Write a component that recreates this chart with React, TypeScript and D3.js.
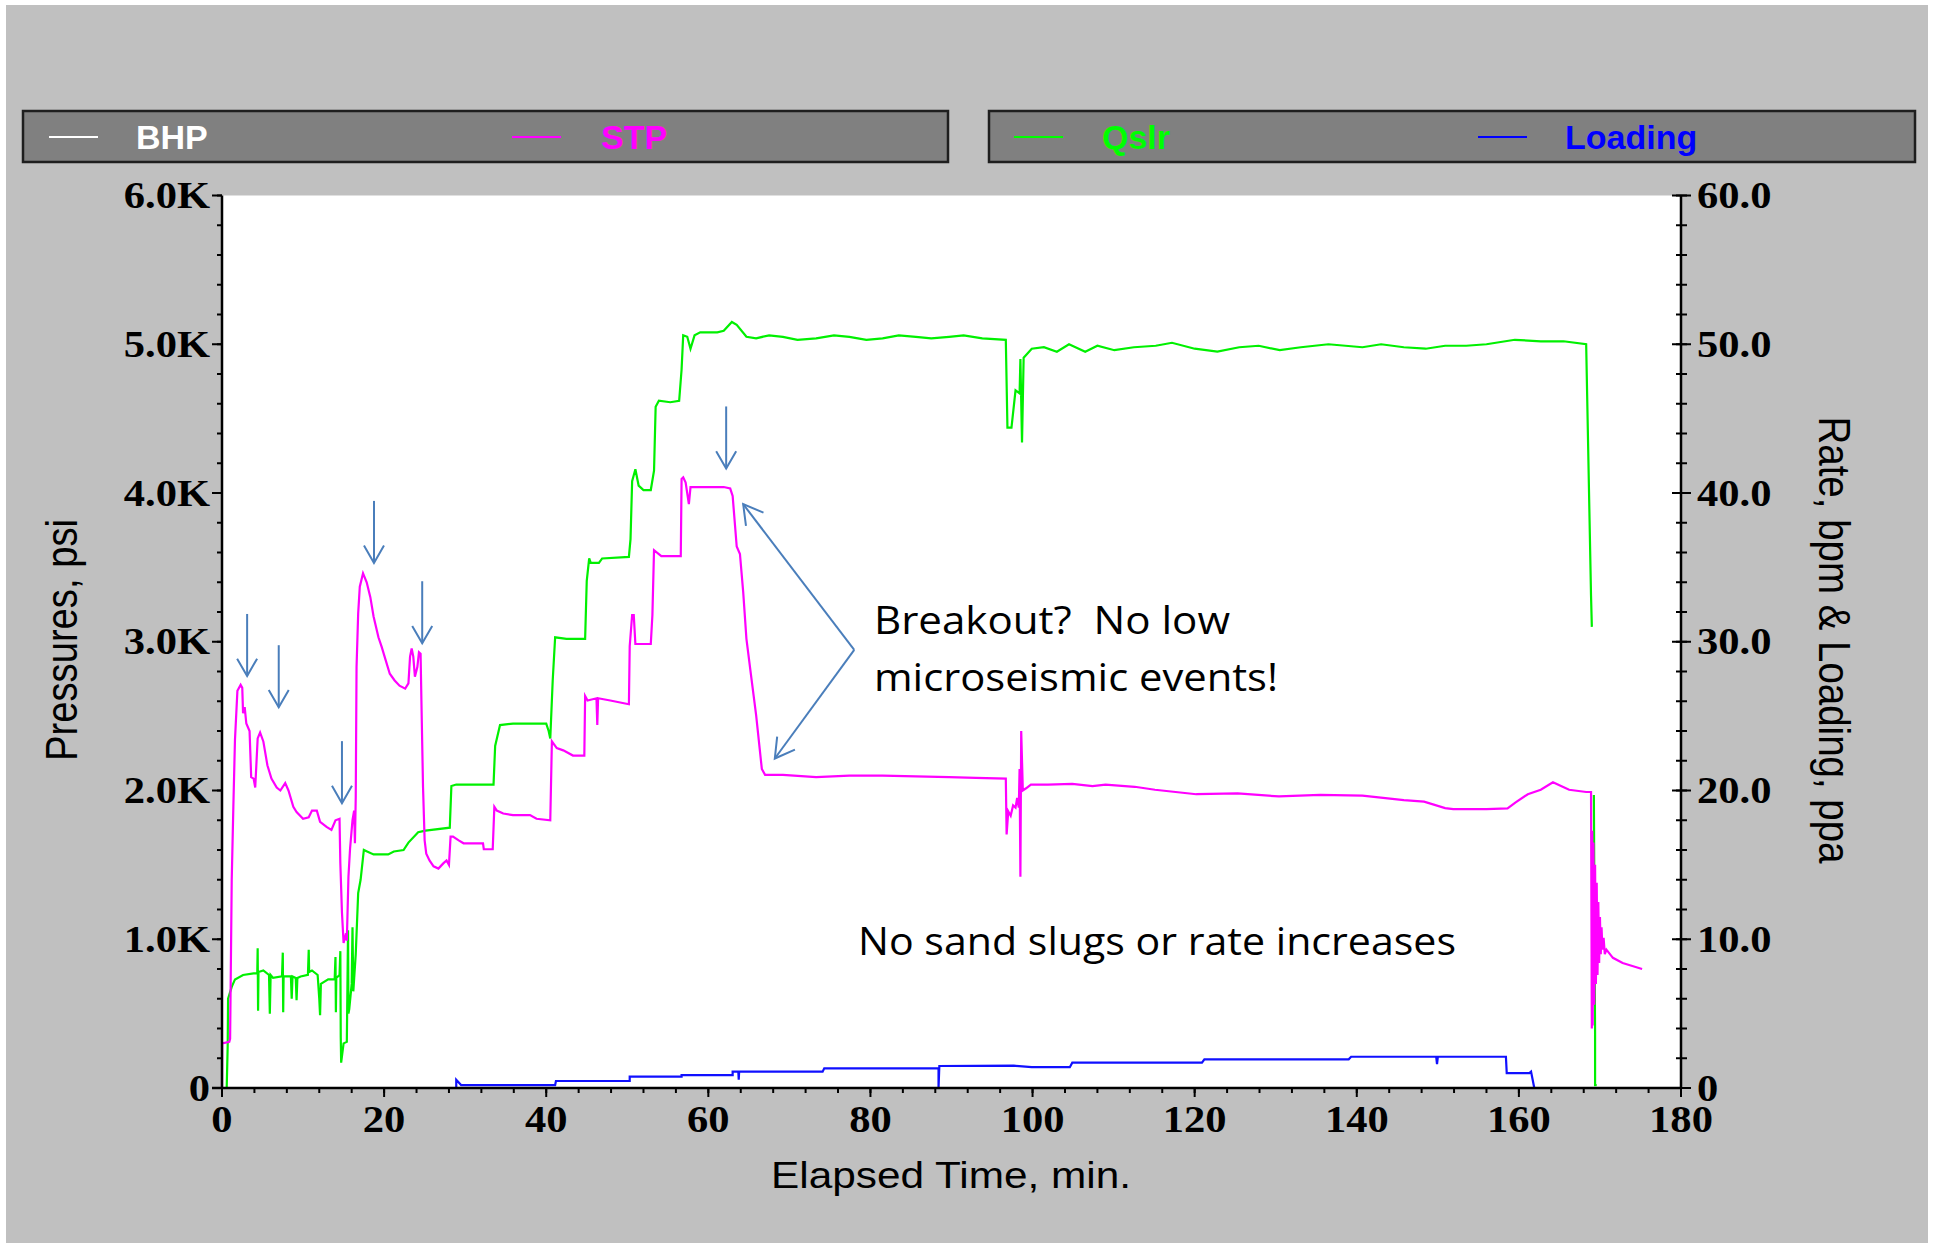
import React from 'react';
import * as d3 from 'd3';

// STP (surface treating pressure), psi
const stpTime = [0, 0.02, 0.9, 1.0, 1.2, 1.4, 1.6, 1.9, 2.3, 2.5, 2.6, 2.8, 3.0, 3.4, 3.6, 3.9, 4.1, 4.4, 4.7, 5.1, 5.6, 6.1, 6.75, 7.2, 7.8, 8.2, 8.8, 9.2, 10.0, 10.7, 11.1, 11.7, 12.1, 12.9, 13.5, 14.0, 14.5, 14.6, 14.8, 15.0, 15.3, 15.4, 15.6, 15.8, 16.1, 16.3, 16.4, 16.5, 16.6, 16.8, 17.0, 17.4, 17.85, 18.3, 18.7, 19.3, 19.7, 20.2, 20.7, 21.3, 21.9, 22.6, 23.0, 23.2, 23.4, 23.6, 23.8, 24.1, 24.3, 24.5, 24.6, 24.8, 25.0, 25.2, 25.6, 26.1, 26.7, 27.3, 27.7, 28.0, 28.2, 28.5, 29.2, 29.8, 32.2, 32.3, 33.4, 33.6, 33.9, 34.7, 35.9, 38.0, 38.8, 40.5, 40.7, 41.3, 42.1, 43.3, 44.7, 44.8, 45.1, 46.2, 46.3, 46.4, 47.9, 50.2, 50.3, 50.6, 50.8, 51.0, 52.9, 53.1, 53.3, 54.2, 56.6, 56.7, 56.9, 57.2, 57.6, 57.8, 59.0, 61.9, 62.7, 63.0, 63.5, 63.9, 64.3, 64.7, 65.3, 65.9, 66.6, 67.0, 69.2, 73.3, 77.4, 81.5, 85.6, 89.7, 93.0, 96.7, 96.8, 97.0, 97.3, 97.6, 97.9, 98.1, 98.3, 98.4, 98.5, 98.6, 98.8, 99.2, 99.8, 101.9, 104.9, 107.4, 109.0, 112.6, 115.1, 120.2, 125.3, 130.4, 135.5, 140.7, 145.8, 148.3, 150.9, 151.9, 156.0, 158.6, 159.6, 161.1, 162.7, 164.2, 165.2, 166.2, 168.3, 168.9, 169.0, 169.05, 169.1, 169.2, 169.3, 169.4, 169.5, 169.6, 169.7, 169.8, 169.9, 170.0, 170.1, 170.2, 170.3, 170.45, 170.6, 170.8, 171.6, 172.8, 174.0, 175.2];
const stpPsi = [0, 300, 310, 330, 1400, 1890, 2340, 2670, 2710, 2690, 2520, 2560, 2450, 2400, 2090, 2080, 2020, 2350, 2390, 2330, 2170, 2080, 2020, 2000, 2050, 2000, 1890, 1855, 1810, 1820, 1865, 1865, 1790, 1755, 1735, 1800, 1810, 1510, 1180, 975, 1040, 990, 1420, 1610, 1800, 1865, 1645, 1955, 2830, 3190, 3370, 3460, 3400, 3300, 3170, 3030, 2965, 2875, 2785, 2740, 2705, 2685, 2720, 2900, 2955, 2900, 2765, 2830, 2930, 2920, 2610, 2025, 1665, 1575, 1530, 1490, 1475, 1510, 1530, 1500, 1690, 1690, 1665, 1645, 1645, 1605, 1605, 1890, 1865, 1845, 1835, 1835, 1810, 1800, 2330, 2285, 2270, 2235, 2235, 2635, 2605, 2620, 2440, 2620, 2605, 2580, 2970, 3180, 3180, 2985, 2985, 3180, 3615, 3575, 3575, 4095, 4105, 4070, 3925, 4040, 4040, 4040, 4030, 3980, 3640, 3590, 3335, 3020, 2760, 2505, 2145, 2105, 2105, 2090, 2100, 2100, 2095, 2090, 2085, 2080, 1705, 1860, 1830, 1900, 1885, 1950, 1885, 2145, 1420, 2400, 2000, 2015, 2040, 2040, 2045, 2030, 2040, 2025, 2005, 1975, 1980, 1960, 1970, 1965, 1935, 1925, 1882, 1875, 1875, 1880, 1920, 1975, 2005, 2055, 2030, 2005, 1990, 1990, 400, 1730, 420, 1650, 560, 1500, 700, 1380, 760, 1250, 840, 1150, 900, 1080, 930, 1010, 900, 930, 875, 840, 820, 800];

// Qslr (slurry rate), bpm -- NaN marks a gap in the trace
const qslrTime = [0.58, 0.7, 0.75, 1.2, 1.6, 2.6, 3.9, 4.35, 4.4, 4.45, 4.5, 5.1, 5.8, 5.9, 6.0, 6.3, 7.4, 7.5, 7.55, 7.6, 8.5, 8.6, 8.7, 9.1, 9.2, 9.3, 9.7, 10.6, 10.7, 10.75, 11.1, 11.8, 12.0, 12.1, 12.2, 13.1, 13.9, 14.0, 14.05, 14.1, 14.5, 14.6, 14.65, 14.7, 15.0, 15.4, 15.55, 15.6, 15.7, 16.0, 16.1, 16.2, 16.5, 16.8, 17.1, 17.5, 17.9, 18.7, 20.5, 21.2, 22.4, 23.0, 24.2, 25.1, 28.1, 28.3, 28.9, 33.5, 33.7, 34.3, 35.9, 40.0, 40.3, 40.5, 40.8, 41.1, 42.5, 44.8, 45.0, 45.3, 45.5, 46.5, 46.9, 50.2, 50.4, 50.6, 51.0, 51.4, 52.0, 52.9, 53.3, 53.5, 53.9, 55.3, 56.4, 56.7, 56.9, 57.4, 57.8, 58.3, 59.0, 61.1, 61.9, 62.9, 63.5, 64.7, 65.9, 67.5, 69.2, 71.0, 73.3, 75.5, 77.4, 79.5, 81.5, 83.5, 85.6, 87.5, 89.7, 91.5, 93.8, 96.7, 96.9, 97.4, 97.9, 98.4, 98.5, 98.7, 98.9, 99.9, 101.4, 103.0, 104.5, 106.5, 108.0, 110.1, 112.5, 115.2, 117.2, 120.0, 122.8, 125.5, 127.9, 130.5, 133.1, 136.5, 140.7, 143.0, 145.8, 148.5, 150.9, 153.5, 156.0, 159.5, 162.7, 165.5, 168.3, 168.9, 169.0, 169.2, 169.25, 169.4, 169.4, 169.6, 175.0];
const qslrRate = [0, 2.8, 6.0, 6.8, 7.3, 7.6, 7.7, 7.7, 9.4, 5.2, 7.8, 7.9, 7.6, 5.0, 7.6, 7.4, 7.5, 9.1, 5.1, 7.5, 7.5, 6.0, 7.5, 7.4, 5.9, 7.4, 7.5, 7.6, 9.3, 7.8, 7.9, 7.6, 6.0, 4.9, 7.0, 7.3, 7.3, 8.8, 5.1, 7.4, 7.6, 9.2, 3.4, 1.7, 3.0, 3.1, 10.6, 5.0, 5.3, 7.0, 10.8, 6.5, 9.0, 13.1, 14.0, 16.0, 15.9, 15.7, 15.7, 15.9, 16.0, 16.5, 17.2, 17.3, 17.5, 20.3, 20.4, 20.4, 23.0, 24.4, 24.5, 24.5, 24.0, 23.5, 27.4, 30.3, 30.2, 30.2, 34.1, 35.6, 35.3, 35.3, 35.6, 35.7, 36.9, 40.8, 41.6, 40.5, 40.2, 40.2, 41.5, 45.8, 46.2, 46.1, 46.2, 48.3, 50.6, 50.5, 49.7, 50.6, 50.8, 50.8, 50.9, 51.5, 51.3, 50.5, 50.4, 50.6, 50.5, 50.3, 50.4, 50.6, 50.5, 50.3, 50.4, 50.6, 50.5, 50.4, 50.5, 50.6, 50.4, 50.3, 44.4, 44.4, 46.9, 46.7, 49.0, 43.4, 49.1, 49.7, 49.8, 49.5, 50.0, 49.5, 49.9, 49.6, 49.8, 49.9, 50.1, 49.7, 49.5, 49.8, 49.9, 49.6, 49.8, 50.0, 49.8, 50.0, 49.8, 49.7, 49.9, 49.9, 50.0, 50.3, 50.2, 50.2, 50.0, 33.1, 31.0, NaN, 19.7, 3.6, 0.2, 0.2];

// Loading, ppa
const loadTime = [28.9, 28.9, 29.5, 41.1, 41.2, 50.3, 50.3, 56.7, 56.7, 63.0, 63.0, 63.7, 63.75, 63.8, 74.1, 74.3, 88.4, 88.4, 88.5, 97.7, 99.9, 104.6, 104.9, 120.9, 121.2, 139.0, 139.3, 149.8, 149.9, 150.0, 158.4, 158.5, 161.3, 161.5, 161.9];
const loadPpa = [0, 0.55, 0.2, 0.2, 0.47, 0.47, 0.76, 0.76, 0.87, 0.87, 1.1, 1.1, 0.55, 1.1, 1.1, 1.32, 1.32, 0, 1.48, 1.5, 1.4, 1.4, 1.7, 1.7, 1.93, 1.93, 2.1, 2.1, 1.6, 2.1, 2.1, 1.0, 1.0, 1.1, 0];

// tick settings
const xMajor = d3.range(0, 181, 20);
const xMinor = d3.range(0, 181, 4);
const pMajor = d3.range(0, 6001, 1000);
const pMinor = d3.range(0, 6001, 200);
const rMajor = d3.range(0, 61, 10);
const rMinor = d3.range(0, 61, 2);

// blue callout arrows: tip in (min, psi)
const arrowTipT = [3.1, 7.0, 14.8, 18.75, 24.7, 62.2];
const arrowTipP = [2770, 2560, 1915, 3530, 2990, 4165];
// breakout double-arrow: apex and the two tips (min, psi)
const breakoutApex = [78.0, 2945];
const breakoutTips = [[64.3, 3925], [68.2, 2215]];

const legendLeft = [
  { name: 'BHP', color: '#ffffff' },
  { name: 'STP', color: '#ff00ff' },
];
const legendRight = [
  { name: 'Qslr', color: '#00ff00' },
  { name: 'Loading', color: '#0000ff' },
];

const W = 1935, H = 1246;
const left = 222, right = 1681, top = 195.5, bottom = 1088;

const arrowCol = '#4a7ebb';

const App = () => {
  const x = d3.scaleLinear().domain([0, 180]).range([left, right]);
  const yP = d3.scaleLinear().domain([0, 6000]).range([bottom, top]);
  const yR = d3.scaleLinear().domain([0, 60]).range([bottom, top]);

  const zip = (a: number[], b: number[]) => a.map((t, i) => [t, b[i]] as [number, number]);

  const lineP = d3.line<[number, number]>().x(d => x(d[0])).y(d => yP(d[1]));
  const lineR = d3.line<[number, number]>()
    .defined(d => !isNaN(d[1]))
    .x(d => x(d[0])).y(d => yR(d[1]));

  const serifLbl = { fontFamily: '"Liberation Serif", "Times New Roman", serif', fontWeight: 700, fontSize: 37 };

  const head = (tx: number, ty: number, fx: number, fy: number, len = 20) => {
    const a = Math.atan2(ty - fy, tx - fx);
    const w = Math.PI / 6;
    const p1 = [tx - len * Math.cos(a - w), ty - len * Math.sin(a - w)];
    const p2 = [tx - len * Math.cos(a + w), ty - len * Math.sin(a + w)];
    return `M${p1[0]},${p1[1]}L${tx},${ty}L${p2[0]},${p2[1]}`;
  };

  const legendBox = (x0: number, x1: number, items: { name: string; color: string }[], lineX: number[], textX: number[]) => (
    <g>
      <rect x={x0} y={111} width={x1 - x0} height={51} fill="#808080" stroke="#1e1e1e" strokeWidth={2.5} />
      {items.map((it, i) => (
        <g key={it.name}>
          <line x1={lineX[i]} x2={lineX[i] + 49} y1={137} y2={137} stroke={it.color} strokeWidth={2} />
          <text x={textX[i]} y={149} fill={it.color}
            style={{ fontFamily: '"Liberation Sans", Arial, sans-serif', fontWeight: 700, fontSize: 34 }}>{it.name}</text>
        </g>
      ))}
    </g>
  );

  const ax = [x(breakoutApex[0]), yP(breakoutApex[1])];

  return (
    <svg width={W} height={H} style={{ position: 'absolute', left: 0, top: 0, display: 'block' }}>
      <rect x={0} y={0} width={W} height={H} fill="#ffffff" />
      <rect x={6} y={5} width={1922} height={1238} fill="#c0c0c0" />

      {legendBox(23, 948, legendLeft, [49, 512], [136, 601])}
      {legendBox(989, 1915, legendRight, [1014, 1478], [1102, 1565])}

      <rect x={left} y={top} width={right - left} height={bottom - top} fill="#ffffff" />

      {/* series */}
      <path d={lineR(zip(loadTime, loadPpa)) || ''} fill="none" stroke="#1010ff" strokeWidth={2.2} />
      <path d={lineR(zip(qslrTime, qslrRate)) || ''} fill="none" stroke="#00f000" strokeWidth={2.2} />
      <path d={lineP(zip(stpTime, stpPsi)) || ''} fill="none" stroke="#ff00ff" strokeWidth={2.2} />

      {/* left axis */}
      <line x1={left} x2={left} y1={top} y2={bottom} stroke="#000" strokeWidth={2.5} />
      {pMinor.map(v => (
        <line key={'pm' + v} x1={left - 5} x2={left} y1={yP(v)} y2={yP(v)} stroke="#000" strokeWidth={2} />
      ))}
      {pMajor.map(v => (
        <g key={'pM' + v}>
          <line x1={left - 10} x2={left} y1={yP(v)} y2={yP(v)} stroke="#000" strokeWidth={2} />
          <g transform={`translate(${left - 12},${yP(v)}) scale(1.15,1)`}>
            <text textAnchor="end" dy="0.34em" style={serifLbl}>{v === 0 ? '0' : (v / 1000).toFixed(1) + 'K'}</text>
          </g>
        </g>
      ))}

      {/* right axis */}
      <line x1={right} x2={right} y1={top} y2={bottom} stroke="#000" strokeWidth={2.5} />
      {rMinor.map(v => (
        <line key={'rm' + v} x1={right - 5} x2={right + 6} y1={yR(v)} y2={yR(v)} stroke="#000" strokeWidth={2} />
      ))}
      {rMajor.map(v => (
        <g key={'rM' + v}>
          <line x1={right - 9} x2={right + 10} y1={yR(v)} y2={yR(v)} stroke="#000" strokeWidth={2} />
          <g transform={`translate(${right + 16},${yR(v)}) scale(1.15,1)`}>
            <text textAnchor="start" dy="0.34em" style={serifLbl}>{v === 0 ? '0' : v.toFixed(1)}</text>
          </g>
        </g>
      ))}

      {/* bottom axis */}
      <line x1={left - 10} x2={right} y1={bottom} y2={bottom} stroke="#000" strokeWidth={2.5} />
      {xMinor.map(v => (
        <line key={'xm' + v} x1={x(v)} x2={x(v)} y1={bottom} y2={bottom + 5} stroke="#000" strokeWidth={2} />
      ))}
      {xMajor.map(v => (
        <g key={'xM' + v}>
          <line x1={x(v)} x2={x(v)} y1={bottom} y2={bottom + 9} stroke="#000" strokeWidth={2} />
          <g transform={`translate(${x(v)},1132) scale(1.15,1)`}>
            <text textAnchor="middle" style={serifLbl}>{v}</text>
          </g>
        </g>
      ))}

      {/* axis titles */}
      <text transform="translate(77,640) rotate(-90)" textAnchor="middle" textLength={242} lengthAdjust="spacingAndGlyphs"
        style={{ fontFamily: '"Liberation Sans", Arial, sans-serif', fontSize: 44 }}>Pressures, psi</text>
      <text transform="translate(1819,640) rotate(90)" textAnchor="middle" textLength={447} lengthAdjust="spacingAndGlyphs"
        style={{ fontFamily: '"Liberation Sans", Arial, sans-serif', fontSize: 44 }}>Rate, bpm &amp; Loading, ppa</text>
      <text x={951} y={1188} textAnchor="middle" textLength={360} lengthAdjust="spacingAndGlyphs"
        style={{ fontFamily: '"Liberation Sans", Arial, sans-serif', fontSize: 37 }}>Elapsed Time, min.</text>

      {/* down arrows */}
      {arrowTipT.map((t, i) => {
        const tx = x(t), ty = yP(arrowTipP[i]);
        return (
          <g key={'ar' + i} stroke={arrowCol} strokeWidth={2} fill="none">
            <line x1={tx} x2={tx} y1={ty - 62} y2={ty} />
            <path d={head(tx, ty, tx, ty - 62, 20)} />
          </g>
        );
      })}

      {/* breakout double arrow */}
      {breakoutTips.map((tp, i) => {
        const tx = x(tp[0]), ty = yP(tp[1]);
        return (
          <g key={'br' + i} stroke={arrowCol} strokeWidth={2} fill="none">
            <line x1={ax[0]} y1={ax[1]} x2={tx} y2={ty} />
            <path d={head(tx, ty, ax[0], ax[1], 22)} />
          </g>
        );
      })}

      {/* annotations */}
      <g style={{ fontFamily: '"Open Sans", "Noto Sans", sans-serif', fontSize: 38 }} fill="#000">
        <text x={874} y={634} textLength={356} lengthAdjust="spacingAndGlyphs">{'Breakout?\u00a0 No low'}</text>
        <text x={874} y={691} textLength={404} lengthAdjust="spacingAndGlyphs">microseismic events!</text>
        <text x={858} y={955} textLength={598} lengthAdjust="spacingAndGlyphs">No sand slugs or rate increases</text>
      </g>
    </svg>
  );
};

export default App;
